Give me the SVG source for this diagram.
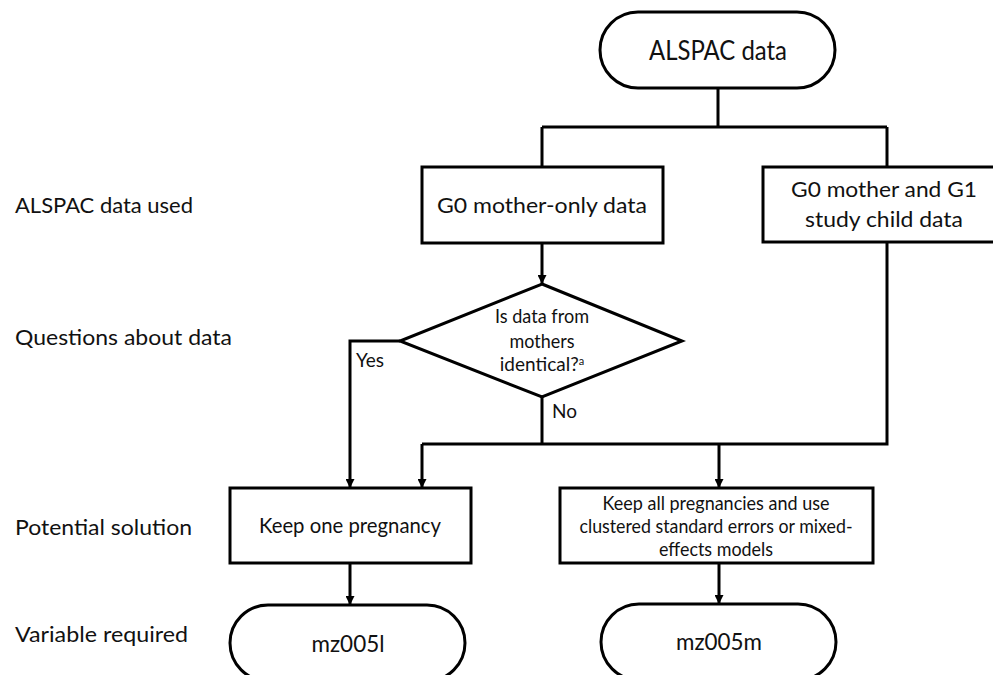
<svg xmlns="http://www.w3.org/2000/svg" width="993" height="675" viewBox="0 0 993 675">
<defs>
<marker id="ah" viewBox="0 0 10 10" refX="10" refY="5" markerWidth="3" markerHeight="3" orient="auto" markerUnits="strokeWidth">
<path d="M0,0 L10,5 L0,10 z" fill="#000"/>
</marker>
</defs>
<style>
.shape{fill:#fff;stroke:#000;stroke-width:3}
.conn{fill:none;stroke:#000;stroke-width:3}
.arr{fill:none;stroke:#000;stroke-width:3;marker-end:url(#ah)}
text{font-family:Lato,"Open Sans","Liberation Sans",sans-serif;fill:#111}
.c{text-anchor:middle}
.lbl{font-size:21px}
.n{font-size:21px}
.s{font-size:19px}
</style>
<rect width="993" height="675" fill="#fff"/>

<g id="connectors">
<path class="conn" d="M718,88 V127 M542,127 H887 M542,127 V167 M887,127 V167"/>
<path class="arr" d="M542,243 V284"/>
<path class="arr" d="M400,341 H350 V488"/>
<path class="conn" d="M542,397 V444"/>
<path class="conn" d="M887,242 V444 H422"/>
<path class="arr" d="M422,444 V488"/>
<path class="arr" d="M719,444 V488"/>
<path class="arr" d="M350,563 V605"/>
<path class="arr" d="M719,563 V604"/>
</g>

<g id="row-labels">
<text class="lbl" x="15" y="213" textLength="178" lengthAdjust="spacingAndGlyphs">ALSPAC data used</text>
<text class="lbl" x="15" y="345" textLength="217" lengthAdjust="spacingAndGlyphs">Questions about data</text>
<text class="lbl" x="15" y="535" textLength="177" lengthAdjust="spacingAndGlyphs">Potential solution</text>
<text class="lbl" x="15" y="642" textLength="173" lengthAdjust="spacingAndGlyphs">Variable required</text>
</g>

<g id="alspac-data">
<rect class="shape" x="600" y="12" width="235" height="76" rx="38"/>
<text class="c" x="718" y="60" font-size="26" textLength="138" lengthAdjust="spacingAndGlyphs">ALSPAC data</text>
</g>

<g id="mother-only">
<rect class="shape" x="422" y="167" width="241" height="76"/>
<text class="c n" x="542" y="213" textLength="210" lengthAdjust="spacingAndGlyphs">G0 mother-only data</text>
</g>

<g id="mother-child">
<rect class="shape" x="763" y="167" width="250" height="75"/>
<text class="c n" x="884" y="197" textLength="186" lengthAdjust="spacingAndGlyphs">G0 mother and G1</text>
<text class="c n" x="884" y="227" textLength="158" lengthAdjust="spacingAndGlyphs">study child data</text>
</g>

<g id="question">
<polygon class="shape" points="542,284 682,341 542,397 400,341"/>
<text class="c s" x="542" y="323" textLength="94" lengthAdjust="spacingAndGlyphs">Is data from</text>
<text class="c s" x="542" y="348" textLength="65" lengthAdjust="spacingAndGlyphs">mothers</text>
<text class="c s" x="542" y="371">identical?<tspan font-size="11" dy="-6">a</tspan></text>
</g>

<g id="edge-labels">
<text class="s" x="356" y="367">Yes</text>
<text class="s" x="552" y="418">No</text>
</g>

<g id="keep-one">
<rect class="shape" x="230" y="488" width="241" height="75"/>
<text class="c n" x="350" y="533" textLength="182" lengthAdjust="spacingAndGlyphs">Keep one pregnancy</text>
</g>

<g id="keep-all">
<rect class="shape" x="560" y="488" width="313" height="75"/>
<text class="c s" x="716" y="510" textLength="227" lengthAdjust="spacingAndGlyphs">Keep all pregnancies and use</text>
<text class="c s" x="716" y="533" textLength="273" lengthAdjust="spacingAndGlyphs">clustered standard errors or mixed-</text>
<text class="c s" x="716" y="556" textLength="114" lengthAdjust="spacingAndGlyphs">effects models</text>
</g>

<g id="mz005l">
<rect class="shape" x="230" y="605" width="235" height="76" rx="38"/>
<text class="c" x="348" y="652" font-size="23" textLength="73" lengthAdjust="spacingAndGlyphs">mz005l</text>
</g>

<g id="mz005m">
<rect class="shape" x="601" y="604" width="235" height="76" rx="38"/>
<text class="c" x="719" y="650" font-size="23" textLength="86" lengthAdjust="spacingAndGlyphs">mz005m</text>
</g>
</svg>
